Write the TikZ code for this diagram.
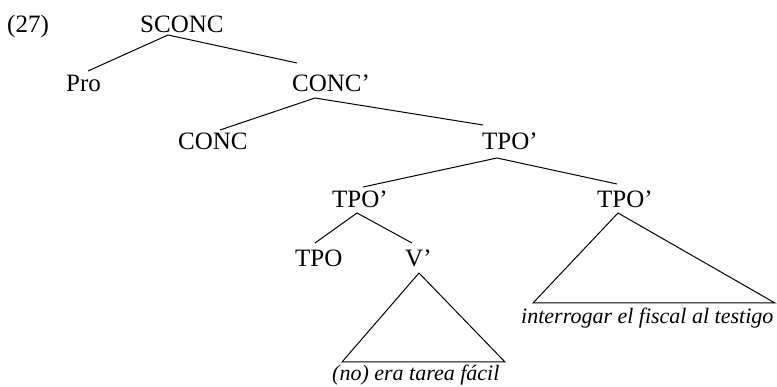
\documentclass[tikz,border=0pt]{standalone}
\usepackage{fontspec}
\setmainfont{Liberation Serif}
\begin{document}
\begin{tikzpicture}[x=1pt,y=-1pt,
  lbl/.style={anchor=base west,inner sep=0pt,font=\fontsize{25}{30}\selectfont},
  leaf/.style={anchor=base west,inner sep=0pt,font=\fontsize{22}{26}\selectfont\itshape},
  branch/.style={line width=1pt}]
\path[use as bounding box] (0,0) rectangle (777,387);

% category labels
\node[lbl] (ex)    at (7,33)   {(27)};
\node[lbl] (sconc) at (140,33) {SCONC};
\node[lbl] (pro)   at (66,92)  {Pro};
\node[lbl] (concb) at (292,92) {CONC'};
\node[lbl] (conc)  at (178,150) {CONC};
\node[lbl] (tpoA)  at (482,150) {TPO'};
\node[lbl] (tpoB)  at (332,208) {TPO'};
\node[lbl] (tpoC)  at (597,208) {TPO'};
\node[lbl] (tpo)   at (295,267) {TPO};
\node[lbl] (vb)    at (405,267) {V'};

% terminal strings under the triangles
\node[leaf] (s1) at (332,381) {(no) era tarea fácil};
\node[leaf] (s2) at (521,324) {interrogar el fiscal al testigo};

% attachment points of the branches
\coordinate (sconc-d) at (168,35);
\coordinate (pro-u)   at (88,71);
\coordinate (concb-u) at (297,63);
\coordinate (concb-d) at (315,98);
\coordinate (conc-u)  at (220,130);
\coordinate (tpoA-u)  at (483,125);
\coordinate (tpoA-d)  at (497,158);
\coordinate (tpoB-u)  at (363,187);
\coordinate (tpoC-u)  at (617,184);
\coordinate (tpoB-d)  at (357,213);
\coordinate (tpo-u)   at (315,243);
\coordinate (vb-u)    at (412,243);
\coordinate (vb-d)    at (419,273);
\coordinate (s1-l)    at (342,362);
\coordinate (s1-r)    at (505,362);
\coordinate (tpoC-d)  at (618,213);
\coordinate (s2-l)    at (533,303);
\coordinate (s2-r)    at (775,303);

% branches
\draw[branch] (pro-u) -- (sconc-d) -- (concb-u);
\draw[branch] (conc-u) -- (concb-d) -- (tpoA-u);
\draw[branch] (tpoB-u) -- (tpoA-d) -- (tpoC-u);
\draw[branch] (tpo-u) -- (tpoB-d) -- (vb-u);

% triangles
\draw[branch,line join=miter] (vb-d) -- (s1-r) -- (s1-l) -- cycle;
\draw[branch,line join=miter] (tpoC-d) -- (s2-r) -- (s2-l) -- cycle;
\end{tikzpicture}
\end{document}
